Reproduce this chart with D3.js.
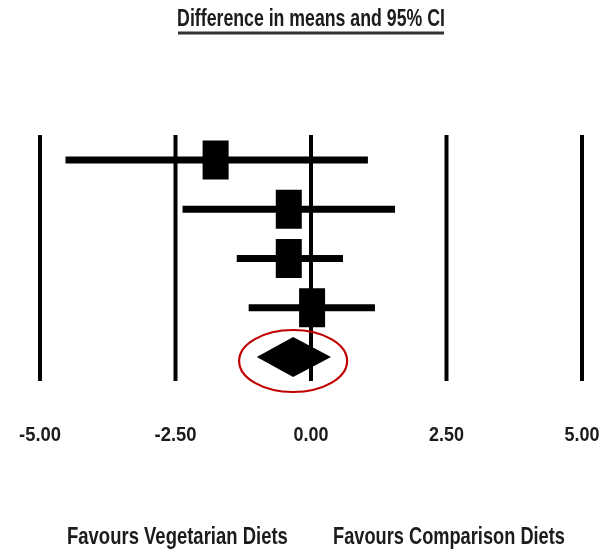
<!DOCTYPE html>
<html>
<head>
<meta charset="utf-8">
<script src="https://cdn.jsdelivr.net/npm/d3@7"></script>
<style>
  body { margin: 0; background: #fff; }
  text { font-family: "Liberation Sans", Arial, sans-serif; font-weight: bold; fill: #1a1a1a; }
</style>
</head>
<body>
<div id="chart"></div>
<script>
// study rows: point estimate and 95% CI (difference in means)
var studies = ["s1", "s2", "s3", "s4"];
var estimates = [-1.76, -0.41, -0.41, 0.02];
var lower = [-4.53, -2.37, -1.37, -1.15];
var upper = [1.05, 1.55, 0.59, 1.18];
// pooled summary
var pooled = { est: -0.33, lo: -1.0, hi: 0.37 };
var ticks = [-5, -2.5, 0, 2.5, 5];
var title = "Difference in means and 95% CI";
var sideLabels = ["Favours Vegetarian Diets", "Favours Comparison Diets"];

var width = 613, height = 552;

var svg = d3.select("#chart").append("svg")
    .attr("width", width)
    .attr("height", height);

var defs = svg.append("defs");
defs.append("filter").attr("id", "soft")
    .append("feGaussianBlur").attr("stdDeviation", 0.5);

var g = svg.append("g").attr("filter", "url(#soft)");

var x = d3.scaleLinear().domain([-5, 5]).range([40, 582]);
var y = d3.scalePoint().domain(d3.range(studies.length + 1)).range([160, 357]);

// hyphen instead of unicode minus, like the original
var fmt = function(d) { return d3.format(".2f")(d).replace("\u2212", "-"); };

// squeeze a text horizontally to a target width (the original is a stretched image)
function squeeze(sel, tx, ty, w) {
    sel.each(function(d, i) {
        var node = d3.select(this);
        var len = this.getComputedTextLength();
        var X = typeof tx === "function" ? tx(d, i) : tx;
        var W = typeof w === "function" ? w(d, i) : w;
        node.attr("transform", "translate(" + X + "," + ty + ") scale(" + (W / len) + ",1)");
    });
}

// vertical reference lines at each tick
g.selectAll(".vline").data(ticks).enter().append("line")
    .attr("class", "vline")
    .attr("x1", function(d) { return x(d); })
    .attr("x2", function(d) { return x(d); })
    .attr("y1", 135)
    .attr("y2", 381)
    .attr("stroke", "#000")
    .attr("stroke-width", 4);

// tick labels
g.selectAll(".tick").data(ticks).enter().append("text")
    .attr("class", "tick")
    .attr("text-anchor", "middle")
    .attr("font-size", 21)
    .text(fmt)
    .call(squeeze, function(d) { return x(d); }, 441, function(d) { return d < 0 ? 42 : 35; });

// CI lines
g.selectAll(".ci").data(studies).enter().append("line")
    .attr("class", "ci")
    .attr("x1", function(d, i) { return x(lower[i]); })
    .attr("x2", function(d, i) { return x(upper[i]); })
    .attr("y1", function(d, i) { return y(i); })
    .attr("y2", function(d, i) { return y(i); })
    .attr("stroke", "#000")
    .attr("stroke-width", 7);

// point estimate boxes
var bw = 26, bh = 39;
g.selectAll(".box").data(studies).enter().append("rect")
    .attr("class", "box")
    .attr("x", function(d, i) { return x(estimates[i]) - bw / 2; })
    .attr("y", function(d, i) { return y(i) - bh / 2; })
    .attr("width", bw)
    .attr("height", bh)
    .attr("fill", "#000");

// pooled diamond
var py = y(studies.length), dh = 20;
g.append("path")
    .attr("d", "M" + x(pooled.lo) + "," + py +
               "L" + x(pooled.est) + "," + (py - dh) +
               "L" + x(pooled.hi) + "," + py +
               "L" + x(pooled.est) + "," + (py + dh) + "Z")
    .attr("fill", "#000");

// title with underline
g.append("text")
    .attr("text-anchor", "middle")
    .attr("font-size", 23)
    .text(title)
    .call(squeeze, 311, 26, 268);
g.append("line")
    .attr("x1", 178).attr("x2", 444)
    .attr("y1", 33).attr("y2", 33)
    .attr("stroke", "#333")
    .attr("stroke-width", 3);

// bottom labels
g.selectAll(".side").data(sideLabels).enter().append("text")
    .attr("class", "side")
    .attr("font-size", 23)
    .text(function(d) { return d; })
    .call(squeeze, function(d, i) { return i ? 333 : 67; }, 544, function(d, i) { return i ? 232 : 221; });

// red highlight ellipse around the pooled estimate
svg.append("ellipse")
    .attr("cx", x(pooled.est))
    .attr("cy", py + 4)
    .attr("rx", 54)
    .attr("ry", 31)
    .attr("fill", "none")
    .attr("stroke", "#c00000")
    .attr("stroke-width", 2.2);
</script>
</body>
</html>
